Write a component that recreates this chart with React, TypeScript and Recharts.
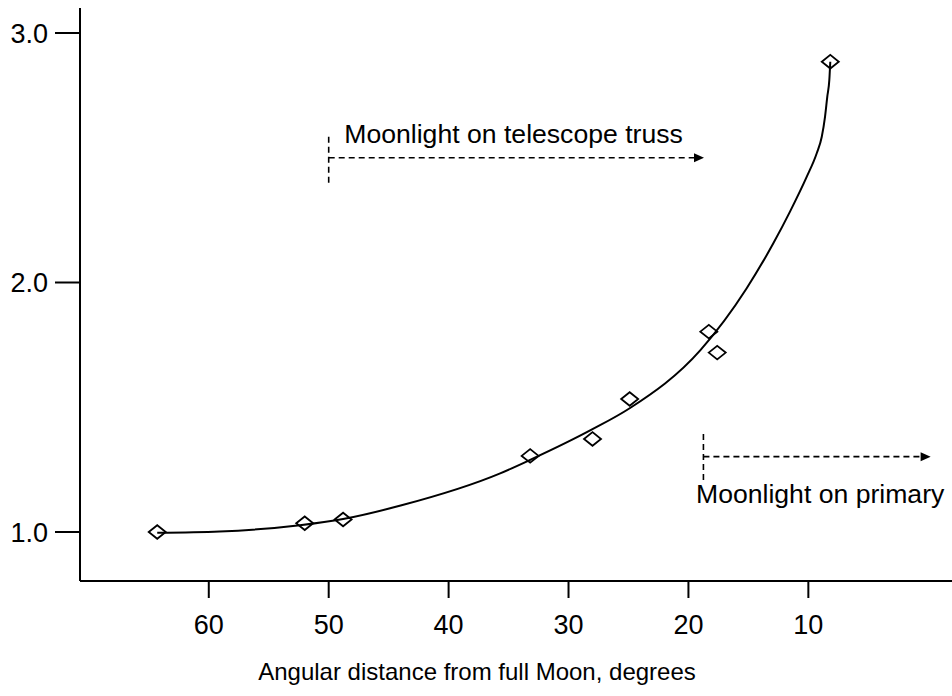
import React from 'react';
import {
  ComposedChart,
  Line,
  Scatter,
  XAxis,
  YAxis,
  ReferenceLine,
  ReferenceDot,
} from 'recharts';

// Measured points (diamonds)
const measuredAngle = [64.3, 52.0, 48.8, 33.2, 28.0, 24.9, 18.3, 17.6, 8.17];
const measuredRatio = [1.0, 1.035, 1.05, 1.305, 1.373, 1.533, 1.803, 1.719, 2.885];

// Smooth curve
const fitAngle = [64.3, 59.1, 52.4, 48.8, 44.0, 35.7, 33.2, 28.0, 24.9, 19.0, 15.14, 12.92, 11.53, 10.13, 9.3, 8.88, 8.61, 8.42, 8.25, 8.17];
const fitRatio = [0.997, 1.002, 1.027, 1.052, 1.106, 1.235, 1.289, 1.412, 1.496, 1.729, 1.977, 2.157, 2.284, 2.424, 2.518, 2.584, 2.664, 2.745, 2.812, 2.885];

const xTicks = [10, 20, 30, 40, 50, 60];
const yTicks = [1, 2, 3];

const measuredData = measuredAngle.map((a, i) => ({ angle: a, ratio: measuredRatio[i] }));
const fitData = fitAngle.map((a, i) => ({ angle: a, ratio: fitRatio[i] }));

const FONT = '"Liberation Sans", Arial, Helvetica, sans-serif';

const Diamond = (props: any) => {
  const { cx, cy } = props;
  const hw = 8.5;
  const hh = 6.8;
  return (
    <polygon
      points={`${cx - hw},${cy} ${cx},${cy - hh} ${cx + hw},${cy} ${cx},${cy + hh}`}
      fill="none"
      stroke="#000"
      strokeWidth={1.8}
    />
  );
};

const ArrowHead = (props: any) => {
  const { cx, cy } = props;
  return <polygon points={`${cx},${cy} ${cx - 10},${cy - 4.5} ${cx - 10},${cy + 4.5}`} fill="#000" />;
};

const makeText = (txt: string) => (props: any) => (
  <text x={props.cx} y={props.cy} fill="#000" fontSize={26.6} fontFamily={FONT}>
    {txt}
  </text>
);

const dash = '6 4';

export default function App() {
  return (
    <div style={{ position: 'absolute', left: 0, top: 0, width: 952, height: 696, background: '#fff' }}>
      <ComposedChart width={952} height={696} margin={{ top: 8, right: 0, bottom: 0, left: 0 }}>
        <XAxis
          type="number"
          dataKey="angle"
          domain={[-1.98, 70.74]}
          reversed
          allowDataOverflow
          ticks={xTicks}
          height={115}
          tickSize={17}
          tickMargin={17}
          axisLine={{ stroke: '#000', strokeWidth: 2 }}
          tickLine={{ stroke: '#000', strokeWidth: 2 }}
          tick={{ fill: '#000', fontSize: 27, fontFamily: FONT }}
          label={{
            value: 'Angular distance from full Moon, degrees',
            position: 'insideBottom',
            offset: 16,
            dx: -39,
            fill: '#000',
            fontSize: 24,
            fontFamily: FONT,
          }}
        />
        <YAxis
          type="number"
          dataKey="ratio"
          domain={[0.8036, 3.1002]}
          allowDataOverflow
          ticks={yTicks}
          width={80}
          tickSize={25}
          tickMargin={7}
          tickFormatter={(v: number) => v.toFixed(1)}
          axisLine={{ stroke: '#000', strokeWidth: 2 }}
          tickLine={{ stroke: '#000', strokeWidth: 2 }}
          tick={{ fill: '#000', fontSize: 27, fontFamily: FONT }}
        />
        <Line
          data={fitData}
          dataKey="ratio"
          type="monotone"
          stroke="#000"
          strokeWidth={2}
          dot={false}
          activeDot={false}
          isAnimationActive={false}
        />
        <Scatter data={measuredData} dataKey="ratio" shape={<Diamond />} isAnimationActive={false} />

        {/* Moonlight on telescope truss */}
        <ReferenceLine segment={[{ x: 50, y: 2.4 }, { x: 50, y: 2.6 }]} stroke="#000" strokeWidth={1.6} strokeDasharray={dash} />
        <ReferenceLine segment={[{ x: 50, y: 2.5 }, { x: 19.5, y: 2.5 }]} stroke="#000" strokeWidth={1.6} strokeDasharray={dash} />
        <ReferenceDot x={18.7} y={2.5} r={0} shape={<ArrowHead />} />
        <ReferenceDot x={48.7} y={2.56} r={0} shape={makeText('Moonlight on telescope truss')} />

        {/* Moonlight on primary */}
        <ReferenceLine segment={[{ x: 18.75, y: 1.208 }, { x: 18.75, y: 1.402 }]} stroke="#000" strokeWidth={1.6} strokeDasharray={dash} />
        <ReferenceLine segment={[{ x: 18.75, y: 1.302 }, { x: 0.6, y: 1.302 }]} stroke="#000" strokeWidth={1.6} strokeDasharray={dash} />
        <ReferenceDot x={-0.2} y={1.302} r={0} shape={<ArrowHead />} />
        <ReferenceDot x={19.37} y={1.115} r={0} shape={makeText('Moonlight on primary')} />
      </ComposedChart>
    </div>
  );
}
